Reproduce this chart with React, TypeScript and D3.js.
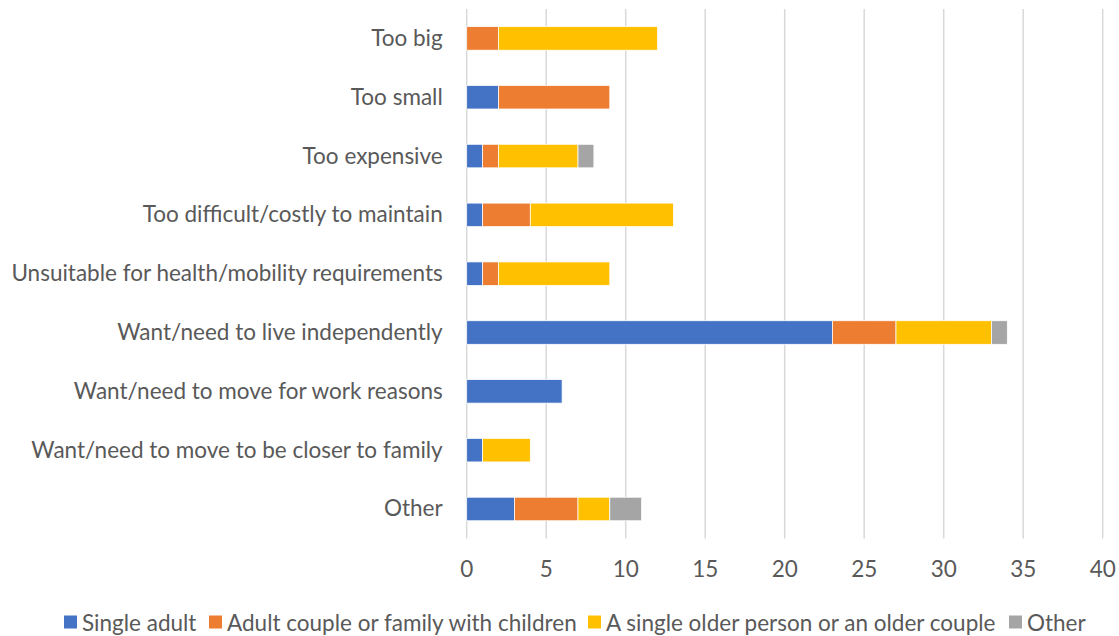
import * as d3 from "d3";

const WIDTH = 1119;
const HEIGHT = 636;
const MARGIN = { top: 9, right: 16.3, bottom: 97.6, left: 466.7 };
const FONT = "Lato, 'Open Sans', sans-serif";
const TEXT_COLOR = "#595959";
const FONT_SIZE = 22.5;

const categories = [
  "Too big",
  "Too small",
  "Too expensive",
  "Too difficult/costly to maintain",
  "Unsuitable for health/mobility requirements",
  "Want/need to live independently",
  "Want/need to move for work reasons",
  "Want/need to move to be closer to family",
  "Other",
];

const seriesNames = [
  "Single adult",
  "Adult couple or family with children",
  "A single older person or an older couple",
  "Other",
];
const seriesColors = ["#4472C4", "#ED7D31", "#FFC000", "#A5A5A5"];

const singleAdult = [0, 2, 1, 1, 1, 23, 6, 1, 3];
const adultCouple = [2, 7, 1, 3, 1, 4, 0, 0, 4];
const olderPerson = [10, 0, 5, 9, 7, 6, 0, 3, 2];
const otherHousehold = [0, 0, 1, 0, 0, 1, 0, 0, 2];

const xTicks = [0, 5, 10, 15, 20, 25, 30, 35, 40];

// legend square x positions
const legendX = [64, 209, 588, 1009];

const App = () => {
  const boundsWidth = WIDTH - MARGIN.left - MARGIN.right;
  const boundsHeight = HEIGHT - MARGIN.top - MARGIN.bottom;

  const rows = categories.map((c, i) => ({
    category: c,
    s0: singleAdult[i],
    s1: adultCouple[i],
    s2: olderPerson[i],
    s3: otherHousehold[i],
  }));

  const stacked = d3.stack<any>().keys(["s0", "s1", "s2", "s3"])(rows);

  const xScale = d3.scaleLinear().domain([0, 40]).range([0, boundsWidth]);
  const yScale = d3
    .scaleBand()
    .domain(categories)
    .range([0, boundsHeight])
    .paddingInner(0.6)
    .paddingOuter(0.3);

  const grid = xTicks.map((t) => (
    <g key={t}>
      <line
        x1={xScale(t)}
        x2={xScale(t)}
        y1={0}
        y2={boundsHeight}
        stroke="#D9D9D9"
        strokeWidth={1.5}
      />
      <text
        x={xScale(t)}
        y={boundsHeight + 39}
        textAnchor="middle"
        fontSize={FONT_SIZE}
        fill={TEXT_COLOR}
      >
        {t}
      </text>
    </g>
  ));

  const bars = stacked.map((layer, li) => (
    <g key={li} fill={seriesColors[li]}>
      {layer.map((d, i) => {
        const w = xScale(d[1]) - xScale(d[0]);
        if (w <= 0) return null;
        return (
          <rect
            key={i}
            x={xScale(d[0])}
            y={yScale(categories[i])}
            width={w}
            height={yScale.bandwidth()}
            stroke="#ffffff"
            strokeWidth={0.75}
          />
        );
      })}
    </g>
  ));

  const labels = categories.map((c) => (
    <text
      key={c}
      x={-24}
      y={(yScale(c) || 0) + yScale.bandwidth() / 2 - 1}
      textAnchor="end"
      dominantBaseline="central"
      fontSize={FONT_SIZE}
      fill={TEXT_COLOR}
    >
      {c}
    </text>
  ));

  const legend = seriesNames.map((name, i) => (
    <g key={name} transform={`translate(${legendX[i]},615.5)`}>
      <rect width={13} height={13} fill={seriesColors[i]} />
      <text
        x={18}
        y={7}
        dominantBaseline="central"
        fontSize={FONT_SIZE}
        fill={TEXT_COLOR}
      >
        {name}
      </text>
    </g>
  ));

  return (
    <svg
      width={WIDTH}
      height={HEIGHT}
      style={{ position: "absolute", left: 0, top: 0, background: "#fff" }}
      fontFamily={FONT}
    >
      <g transform={`translate(${MARGIN.left},${MARGIN.top})`}>
        {grid}
        {bars}
        {labels}
      </g>
      {legend}
    </svg>
  );
};

export default App;
